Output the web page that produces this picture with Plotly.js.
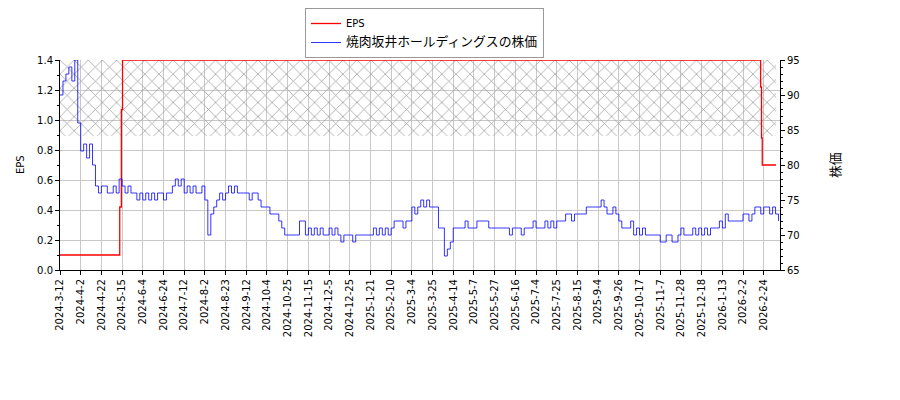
<!DOCTYPE html>
<html>
<head>
<meta charset="utf-8">
<script src="https://cdn.plot.ly/plotly-3.0.1.min.js"></script>
<style>
  html, body { margin: 0; padding: 0; background: #fff; }
  #grafico { width: 900px; height: 400px; }
</style>
</head>
<body>
<div id="grafico"></div>
<script>
// ============================================================================
// EPS y precio de la acción (焼肉坂井ホールディングス) sobre días hábiles.
// El eje X es un índice de rueda bursátil (no fechas reales): cada etiqueta
// cae cada 14 ruedas, igual que en el gráfico original.
// ============================================================================

// Etiquetas del eje X, una cada PASO_ETIQUETAS ruedas.
const etiquetasFecha = [
  '2024-3-12', '2024-4-2', '2024-4-22', '2024-5-15', '2024-6-4', '2024-6-24', '2024-7-12',
  '2024-8-2', '2024-8-23', '2024-9-12', '2024-10-4', '2024-10-25', '2024-11-15', '2024-12-5',
  '2024-12-25', '2025-1-21', '2025-2-10', '2025-3-4', '2025-3-25', '2025-4-14', '2025-5-7',
  '2025-5-27', '2025-6-16', '2025-7-4', '2025-7-25', '2025-8-15', '2025-9-4', '2025-9-26',
  '2025-10-17', '2025-11-7', '2025-11-28', '2025-12-18', '2026-1-13', '2026-2-2', '2026-2-24',
];
const PASO_ETIQUETAS = 14;
const ULTIMA_RUEDA = 487;

const PASO_PRECIO = 2;
const precios = [
  90, 92, 93, 94, 92, 95, 86, 82, 83, 81,
  83, 80, 77, 76, 77, 77, 76, 76, 77, 76,
  78, 77, 76, 77, 76, 76, 75, 76, 75, 76,
  75, 76, 75, 76, 76, 75, 76, 76, 77, 78,
  77, 78, 76, 77, 76, 77, 76, 76, 77, 75,
  70, 73, 74, 75, 76, 75, 76, 77, 76, 77,
  76, 76, 76, 76, 75, 76, 76, 75, 74, 74,
  74, 73, 73, 73, 72, 71, 70, 70, 70, 70,
  70, 72, 72, 70, 71, 70, 71, 70, 71, 70,
  70, 71, 70, 71, 70, 69, 70, 70, 70, 69,
  70, 70, 70, 70, 70, 70, 71, 70, 71, 70,
  71, 70, 71, 72, 72, 72, 71, 72, 72, 74,
  73, 74, 75, 74, 75, 74, 74, 74, 71, 71,
  67, 68, 69, 71, 71, 71, 71, 72, 71, 71,
  71, 72, 72, 72, 72, 71, 71, 71, 71, 71,
  71, 71, 70, 71, 71, 71, 70, 71, 71, 71,
  72, 71, 71, 71, 72, 71, 72, 71, 72, 72,
  72, 73, 73, 72, 73, 73, 73, 73, 74, 74,
  74, 74, 74, 75, 74, 73, 73, 74, 73, 72,
  71, 71, 71, 72, 70, 71, 70, 71, 70, 70,
  70, 70, 70, 69, 69, 70, 70, 69, 69, 70,
  71, 70, 70, 70, 71, 70, 71, 70, 71, 70,
  71, 71, 71, 72, 71, 73, 72, 72, 72, 72,
  72, 73, 73, 72, 73, 74, 74, 73, 74, 74,
  73, 74, 73, 72,
];

// EPS: escalones (rueda donde cambia -> valor desde ahí).
const epsRuedas = [0, 40.4, 41.5, 42.3, 473.9, 474.5, 475.0, 484.3];
const epsValores = [0.1, 0.42, 1.07, 1.4, 1.22, 0.88, 0.7, 0.7];

// Zona rayada del original (en unidades del eje EPS).
const rayadoDesde = 0;
const rayadoHasta = 484.3;
const rayadoPiso = 0.893;
const rayadoTecho = 1.4;

const FUENTE = '"DejaVu Sans", "Noto Sans CJK JP", sans-serif';
const GRIS_GRILLA = '#c8c8c8';
// el texto japonés del original sale más ancho que el latino a igual tamaño
const conTextoJapones = (t) => `<span style="font-size:12.8px">${t}</span>`;

const ruedasPrecio = precios.map((_, i) => i * PASO_PRECIO);
const posicionesEtiquetas = etiquetasFecha.map((_, i) => i * PASO_ETIQUETAS);

const trazas = [
  {
    // rayado de fondo -- sin leyenda, solo decorativo
    type: 'scatter',
    mode: 'lines',
    x: [rayadoDesde, rayadoHasta, rayadoHasta, rayadoDesde, rayadoDesde],
    y: [rayadoPiso, rayadoPiso, rayadoTecho, rayadoTecho, rayadoPiso],
    fill: 'toself',
    fillcolor: 'rgba(0,0,0,0)',
    fillpattern: { shape: 'x', fgcolor: '#999999', bgcolor: 'rgba(255,255,255,0)', size: 10, solidity: 0.14 },
    line: { width: 0 },
    showlegend: false,
    hoverinfo: 'skip',
  },
  {
    type: 'scatter',
    mode: 'lines',
    name: 'EPS',
    x: epsRuedas,
    y: epsValores,
    line: { color: '#ff0000', width: 1.3, shape: 'hv' },
  },
  {
    type: 'scatter',
    mode: 'lines',
    name: conTextoJapones('焼肉坂井ホールディングスの株価'),
    x: ruedasPrecio,
    y: precios,
    yaxis: 'y2',
    line: { color: '#0000ff', width: 0.8, shape: 'hv' },
  },
];

const layout = {
  width: 900,
  height: 400,
  // autoexpand apagado: la leyenda va en el margen superior y no debe mover el área de trazado
  margin: { l: 60, r: 120, t: 60, b: 130, autoexpand: false },
  paper_bgcolor: '#fff',
  plot_bgcolor: '#fff',
  font: { family: FUENTE, size: 10, color: '#000' },
  showlegend: true,
  legend: {
    xref: 'container', yref: 'container',
    x: 305 / 900, y: 1 - 8 / 400, xanchor: 'left', yanchor: 'top',
    bgcolor: '#fff', bordercolor: '#999', borderwidth: 1,
    font: { family: FUENTE, size: 10 },
  },
  xaxis: {
    range: [0, ULTIMA_RUEDA],
    tickmode: 'array',
    tickvals: posicionesEtiquetas,
    ticktext: etiquetasFecha,
    tickangle: -90,
    tickfont: { size: 10 },
    showgrid: true, gridcolor: GRIS_GRILLA, gridwidth: 1,
    showline: true, linecolor: '#000', linewidth: 1,
    ticks: 'outside', ticklen: 4, tickcolor: '#000',
    zeroline: false,
  },
  yaxis: {
    range: [0, 1.4],
    tick0: 0, dtick: 0.2, tickformat: '.1f',
    showgrid: true, gridcolor: GRIS_GRILLA, gridwidth: 1,
    showline: true, linecolor: '#000', linewidth: 1,
    ticks: 'outside', ticklen: 4, tickcolor: '#000',
    minor: { dtick: 0.1, ticks: 'outside', ticklen: 2, tickcolor: '#000', showgrid: false },
    zeroline: false,
  },
  yaxis2: {
    overlaying: 'y',
    side: 'right',
    range: [65, 95],
    tick0: 65, dtick: 5,
    showgrid: false,
    showline: true, linecolor: '#000', linewidth: 1,
    ticks: 'outside', ticklen: 4, tickcolor: '#000',
    minor: { dtick: 1, ticks: 'outside', ticklen: 2, tickcolor: '#000', showgrid: false },
    zeroline: false,
  },
  // títulos de los ejes Y como anotaciones: con autoexpand apagado el título
  // nativo del eje izquierdo se desubica
  annotations: [
    { text: 'EPS', xref: 'paper', yref: 'paper', x: -40 / 720, y: 0.5, xanchor: 'center', yanchor: 'middle', textangle: -90, showarrow: false, font: { size: 10 } },
    { text: conTextoJapones('株価'), xref: 'paper', yref: 'paper', x: 1 + 55 / 720, y: 0.5, xanchor: 'center', yanchor: 'middle', textangle: -90, showarrow: false, font: { size: 10 } },
  ],
};

Plotly.newPlot('grafico', trazas, layout, { displayModeBar: false, staticPlot: true });
</script>
</body>
</html>
